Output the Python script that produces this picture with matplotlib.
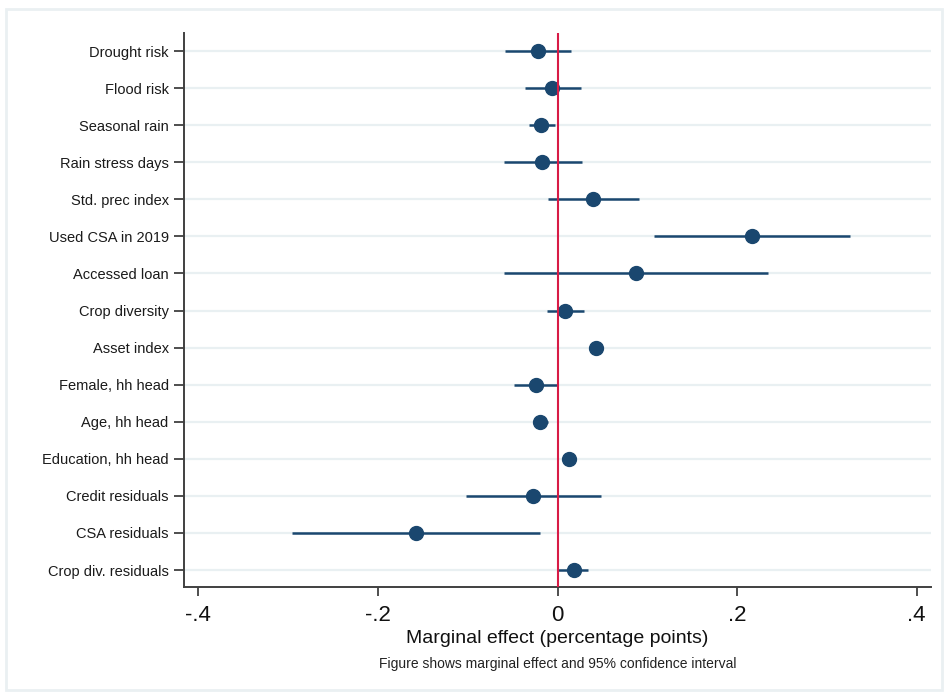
#Coefficient plot: marginal effects with 95% confidence intervals
import matplotlib
matplotlib.use("Agg")
import numpy as np
import matplotlib.pyplot as plt
from matplotlib.patches import Rectangle

labels = ["Drought risk", "Flood risk", "Seasonal rain", "Rain stress days",
          "Std. prec index", "Used CSA in 2019", "Accessed loan", "Crop diversity",
          "Asset index", "Female, hh head", "Age, hh head", "Education, hh head",
          "Credit residuals", "CSA residuals", "Crop div. residuals"]
effect = [-0.022, -0.006, -0.018, -0.017, 0.040, 0.217, 0.087, 0.008,
          0.043, -0.024, -0.020, 0.013, -0.027, -0.158, 0.018]
ci_low = [-0.058, -0.036, -0.032, -0.060, -0.011, 0.108, -0.060, -0.012,
          0.040, -0.048, -0.027, 0.010, -0.102, -0.296, -0.001]
ci_high = [0.015, 0.026, -0.003, 0.027, 0.091, 0.326, 0.234, 0.029,
           0.046, 0.000, -0.011, 0.016, 0.048, -0.020, 0.034]
xticks = [-0.4, -0.2, 0, 0.2, 0.4]
xticklabels = ["-.4", "-.2", "0", ".2", ".4"]

plt.rcParams['font.family'] = ['Liberation Sans', 'DejaVu Sans']

navy = '#1a476f'
grid = '#e9f0f2'
axcol = '#404040'

fig = plt.figure(figsize=(9.45, 6.93), dpi=100)
fig.patches.append(Rectangle((0.0065, 0.004), 0.99, 0.983, transform=fig.transFigure,
                             fill=False, edgecolor='#eaf0f2', linewidth=2))
ax = fig.add_axes([0.1947, 0.1525, 0.7905, 0.8003])

y = np.arange(len(labels))
for yi in y:
    ax.axhline(yi, color=grid, linewidth=1.6, zorder=0)

ax.hlines(y, ci_low, ci_high, color=navy, linewidth=1.8, zorder=2)
ax.plot(effect, y, 'o', color=navy, markersize=10, zorder=3)
ax.axvline(0, color='#d81b46', linewidth=1.5, zorder=4)

ax.set_xlim(-0.416, 0.416)
ax.set_ylim(14.467, -0.494)
ax.set_yticks(y)
ax.set_yticklabels(labels, fontsize=10.5, color='#1a1a1a')
ax.set_xticks(xticks)
ax.set_xticklabels(xticklabels, fontsize=16, color='#111111')

for s in ['top', 'right']:
    ax.spines[s].set_visible(False)
for s in ['left', 'bottom']:
    ax.spines[s].set_color(axcol)
    ax.spines[s].set_linewidth(1.4)
ax.tick_params(axis='y', length=7, width=1.3, color=axcol, pad=4)
ax.tick_params(axis='x', length=6.5, width=1.3, color=axcol, pad=6)

ax.set_xlabel("Marginal effect (percentage points)", fontsize=14, color='#111111', labelpad=3)
fig.text(0.59, 0.0418, "Figure shows marginal effect and 95% confidence interval",
         ha='center', va='center', fontsize=10, color='#222222')

plt.savefig("out.png", dpi=100)
